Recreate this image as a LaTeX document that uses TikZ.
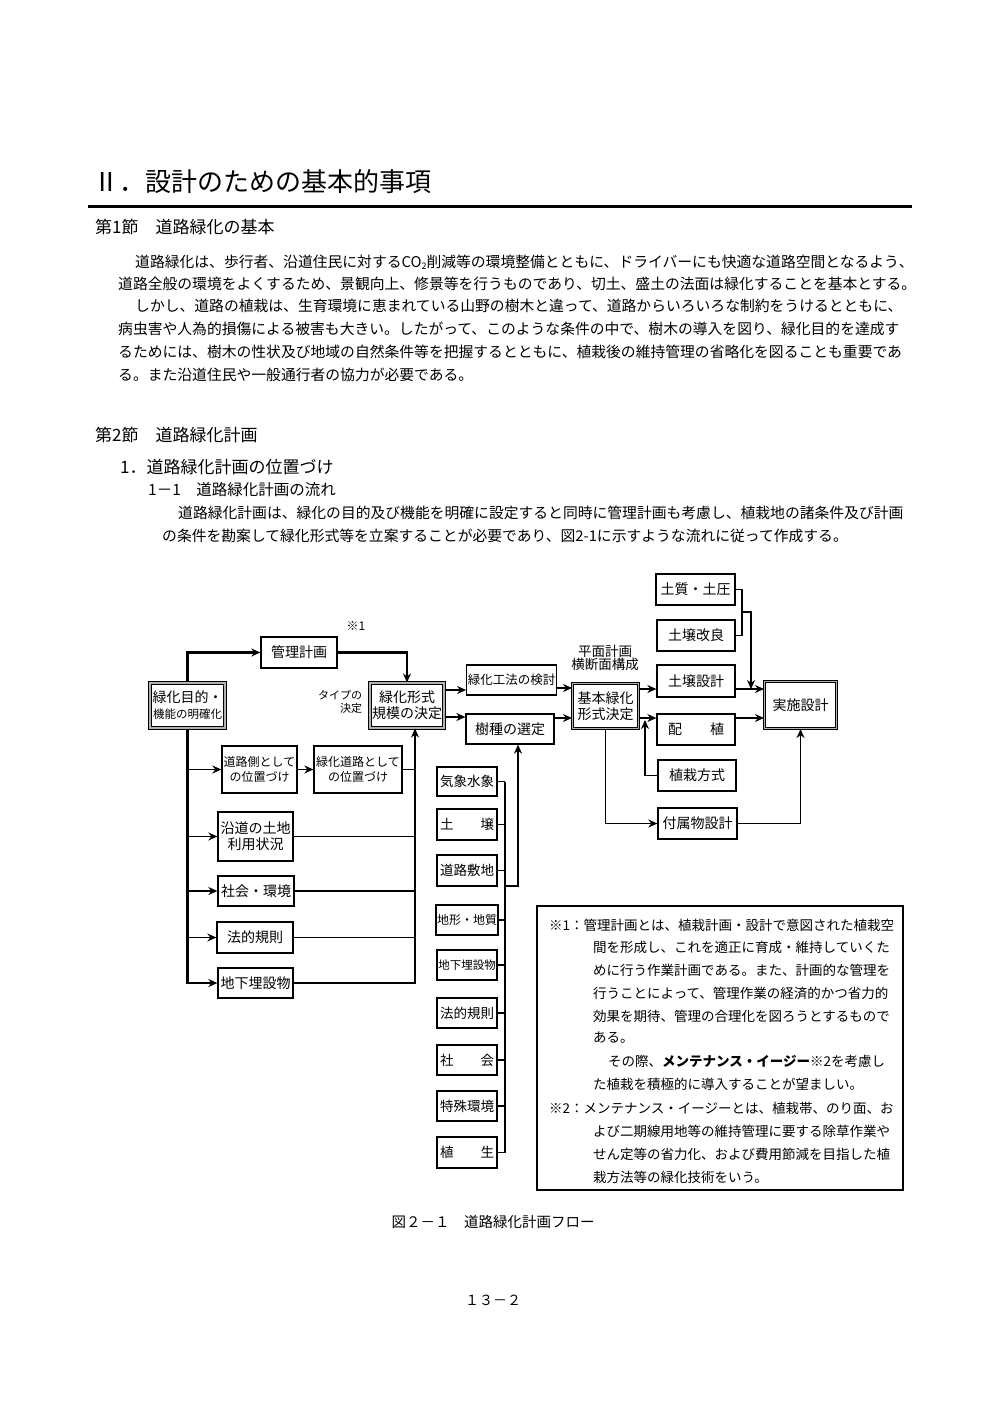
\documentclass[tikz,border=0pt]{standalone}
\usepackage{fontspec}
\setmainfont{Noto Sans CJK JP}
\usetikzlibrary{arrows.meta,positioning}
\XeTeXlinebreaklocale "ja"
\XeTeXlinebreakskip=0pt plus 1pt

\begin{document}
\begin{tikzpicture}[x=1pt, y=-1pt,
    box/.style={draw, line width=1.3pt, inner sep=1pt, align=center, font=\fontsize{14}{16}\selectfont},
    dbox/.style={box, line width=1.1pt, double=gray!60, double distance=1.6pt},
    lbox/.style={box, minimum width=60, font=\fontsize{13.5}{15}\selectfont},
    arr/.style={-{Stealth[length=9pt,width=8pt]}, line width=1.3pt},
    arrT/.style={arr, line width=2.2pt},
    ln/.style={line width=1.3pt},
    para/.style={anchor=west, inner sep=0pt, font=\fontsize{14.8}{16}\selectfont},
    head/.style={anchor=west, inner sep=0pt, font=\fontsize{17}{19}\selectfont},
    notetext/.style={anchor=west, inner sep=0pt, font=\fontsize{13.5}{15}\selectfont}]
    \fill[white] (0,0) rectangle (992,1403);
    \useasboundingbox (0,0) rectangle (992,1403);

    % page text
    \node[anchor=west, inner sep=0pt, font=\fontsize{26}{28}\selectfont] (title) at (93,182) {Ⅱ．設計のための基本的事項};
    \draw[line width=3pt] (88,206) -- (912,206);
    \node[head] (sec1) at (95,227) {第1節\quad 道路緑化の基本};
    \node[para] at (135,262) {\makebox[770pt][s]{道路緑化は、歩行者、沿道住民に対するCO\raisebox{-2pt}{\fontsize{9}{9}\selectfont 2}削減等の環境整備とともに、ドライバーにも快適な道路空間となるよう、}};
    \node[para] at (118,284) {\makebox[787pt][s]{道路全般の環境をよくするため、景観向上、修景等を行うものであり、切土、盛土の法面は緑化することを基本とする。}};
    \node[para] at (135,306) {\makebox[770pt][s]{しかし、道路の植栽は、生育環境に恵まれている山野の樹木と違って、道路からいろいろな制約をうけるとともに、}};
    \node[para] at (118,329) {\makebox[787pt][s]{病虫害や人為的損傷による被害も大きい。したがって、このような条件の中で、樹木の導入を図り、緑化目的を達成す}};
    \node[para] at (118,352) {\makebox[787pt][s]{るためには、樹木の性状及び地域の自然条件等を把握するとともに、植栽後の維持管理の省略化を図ることも重要であ}};
    \node[para] at (118,375) {る。また沿道住民や一般通行者の協力が必要である。};

    \node[head] (sec2) at (95,435) {第2節\quad 道路緑化計画};
    \node[head] at (120,467) {1．道路緑化計画の位置づけ};
    \node[para, font=\fontsize{15.5}{17}\selectfont] at (148,490) {1－1\quad 道路緑化計画の流れ};
    \node[para] at (178,513) {\makebox[730pt][s]{道路緑化計画は、緑化の目的及び機能を明確に設定すると同時に管理計画も考慮し、植栽地の諸条件及び計画}};
    \node[para] at (162,536) {の条件を勘案して緑化形式等を立案することが必要であり、図2-1に示すような流れに従って作成する。};

    % flow
    \node[box, minimum width=76, minimum height=31] (kanri) at (299,652.5) {管理計画};
    \node[font=\fontsize{12}{14}\selectfont, inner sep=0pt] (kome) at (356,626) {※1};
    \node[dbox, minimum width=75, minimum height=45] (mokuteki) at (187.5,705.5) {緑化目的・\\{\fontsize{11.5}{13}\selectfont 機能の明確化}};
    \node[dbox, minimum width=74, minimum height=45] (keishiki) at (407,705.5) {緑化形式\\規模の決定};
    \node[font=\fontsize{11}{13}\selectfont, align=right, inner sep=0pt] (type) at (340,702) {タイプの\\決定};
    \node[box, minimum width=75, minimum height=47, font=\fontsize{12}{15}\selectfont] (tsuro) at (259.5,769.5) {道路側として\\の位置づけ};
    \node[box, minimum width=88, minimum height=47, font=\fontsize{12}{15}\selectfont] (ryokudoro) at (358,769.5) {緑化道路として\\の位置づけ};
    \node[box, minimum width=75, minimum height=49] (endo) at (255.5,836.5) {沿道の土地\\利用状況};
    \node[box, minimum width=76, minimum height=30] (shakai) at (256,891) {社会・環境};
    \node[box, minimum width=76, minimum height=31] (hoki) at (255,937.5) {法的規則};
    \node[box, minimum width=75, minimum height=30] (chika) at (255.5,983) {地下埋設物};

    \node[box, minimum width=87, minimum height=30, font=\fontsize{12.5}{14}\selectfont] (koho) at (511.5,680) {緑化工法の検討};
    \node[box, minimum width=88, minimum height=30] (jushu) at (510,729) {樹種の選定};
    \node[dbox, minimum width=66, minimum height=45] (kihon) at (605.5,706) {基本緑化\\形式決定};
    \node[font=\fontsize{13.5}{12}\selectfont, align=center, inner sep=0pt] (heimen) at (605,658) {平面計画\\横断面構成};

    \node[box, minimum width=79, minimum height=31] (doshitsu) at (695.5,589.5) {土質・土圧};
    \node[box, minimum width=78, minimum height=31] (kairyo) at (696,635.5) {土壌改良};
    \node[box, minimum width=78, minimum height=32] (dojo) at (696,681) {土壌設計};
    \node[box, minimum width=78, minimum height=31] (haishoku) at (696,729.5) {配\hspace{2em}植};
    \node[box, minimum width=78, minimum height=31] (hoshiki) at (697,775.5) {植栽方式};
    \node[box, minimum width=79, minimum height=31] (fuzoku) at (697.5,823.5) {付属物設計};
    \node[dbox, minimum width=72, minimum height=47] (jisshi) at (800.5,705) {実施設計};

    \foreach \n/\y/\h/\t in {kisho/781.5/29/気象水象, dojo2/824.5/31/土\hspace{2em}壌,
        shikichi/870.5/31/道路敷地, chikei/920/30/{\fontsize{12}{13}\selectfont 地形・地質},
        maisetsu/965/30/{\fontsize{11.5}{13}\selectfont 地下埋設物}, hoki2/1013/30/法的規則,
        shakai2/1060/30/社\hspace{2em}会, tokushu/1106/30/特殊環境, shokusei/1152.5/31/植\hspace{2em}生}
        \node[lbox, minimum height=\h] (\n) at (467,\y) {\t};

    % connectors
    \draw[arrT] (mokuteki.north) |- (kanri.west);
    \draw[arrT] (kanri.east) -| (keishiki.north);
    \draw[arrT] (mokuteki.south) |- (chika.west);
    \foreach \n in {tsuro,endo,shakai,hoki}
        \draw[arr] (mokuteki.south |- \n.west) -- (\n.west);
    \draw[arr] (tsuro) -- (ryokudoro);
    \coordinate (bus1) at ([xshift=8pt]keishiki.south);
    \draw[arr] (chika.east) -| (bus1);
    \foreach \n in {ryokudoro,endo,shakai,hoki}
        \draw[ln] (\n.east) -- (\n.east -| bus1);

    \draw[arr] (keishiki.east |- 0,690) -- (koho.west |- 0,690);
    \draw[arr] (keishiki.east |- 0,717) -- (jushu.west |- 0,717);
    \draw[arr] (koho.east |- 0,688) -- (kihon.west |- 0,688);
    \draw[arr] (jushu.east |- 0,718) -- (kihon.west |- 0,718);

    \coordinate (bus2) at (505,886);
    \foreach \n in {kisho,dojo2,shikichi,chikei,maisetsu,hoki2,shakai2,tokushu,shokusei}
        \draw[ln] (\n.east) -- (\n.east -| bus2);
    \draw[ln] (kisho.east -| bus2) -- (shokusei.east -| bus2);
    \draw[arrT] (bus2) -| ([xshift=8pt]jushu.south);

    \draw[arr] (kihon.east |- 0,689) -- (dojo.west |- 0,689);
    \draw[arr] (kihon.east |- 0,718) -- (haishoku.west |- 0,718);
    \coordinate (hs) at (645,720);
    \draw[arr] (hoshiki.west) -| (hs);
    \draw[arr] (kihon.south) |- (fuzoku.west);
    \draw[arr] (fuzoku.east) -| (jisshi.south);
    \coordinate (dk) at (742,612);
    \coordinate (dj) at (751,689);
    \draw[ln] (doshitsu.east) -| (dk) |- (kairyo.east);
    \draw[arr] (dk) -| (dj);
    \draw[arr] (dojo.east |- 0,689) -- (jisshi.west |- 0,689);
    \draw[arr] (haishoku.east |- 0,718) -- (jisshi.west |- 0,718);

    % note
    \node[draw, line width=1.2pt, minimum width=366, minimum height=284] (notebox) at (720,1048) {};
    \node[notetext] at (549,925) {\makebox[342pt][s]{※1：管理計画とは、植栽計画・設計で意図された植栽空}};
    \node[notetext] at (593,947) {\makebox[298pt][s]{間を形成し、これを適正に育成・維持していくた}};
    \node[notetext] at (593,970) {\makebox[298pt][s]{めに行う作業計画である。また、計画的な管理を}};
    \node[notetext] at (593,993) {\makebox[298pt][s]{行うことによって、管理作業の経済的かつ省力的}};
    \node[notetext] at (593,1016) {\makebox[298pt][s]{効果を期待、管理の合理化を図ろうとするもので}};
    \node[notetext] at (593,1038) {ある。};
    \node[notetext] at (608,1061) {\makebox[283pt][s]{その際、\textbf{メンテナンス・イージー}※2を考慮し}};
    \node[notetext] at (593,1084) {た植栽を積極的に導入することが望ましい。};
    \node[notetext] at (549,1108) {\makebox[342pt][s]{※2：メンテナンス・イージーとは、植栽帯、のり面、お}};
    \node[notetext] at (593,1131) {\makebox[298pt][s]{よび二期線用地等の維持管理に要する除草作業や}};
    \node[notetext] at (593,1154) {\makebox[298pt][s]{せん定等の省力化、および費用節減を目指した植}};
    \node[notetext] at (593,1177) {栽方法等の緑化技術をいう。};

    \node[inner sep=0pt, font=\fontsize{14.5}{16}\selectfont] (caption) at (493,1222) {図２－１\quad 道路緑化計画フロー};
    \node[inner sep=0pt, font=\fontsize{14}{16}\selectfont] (pageno) at (493,1300) {１３－２};
\end{tikzpicture}
\end{document}
